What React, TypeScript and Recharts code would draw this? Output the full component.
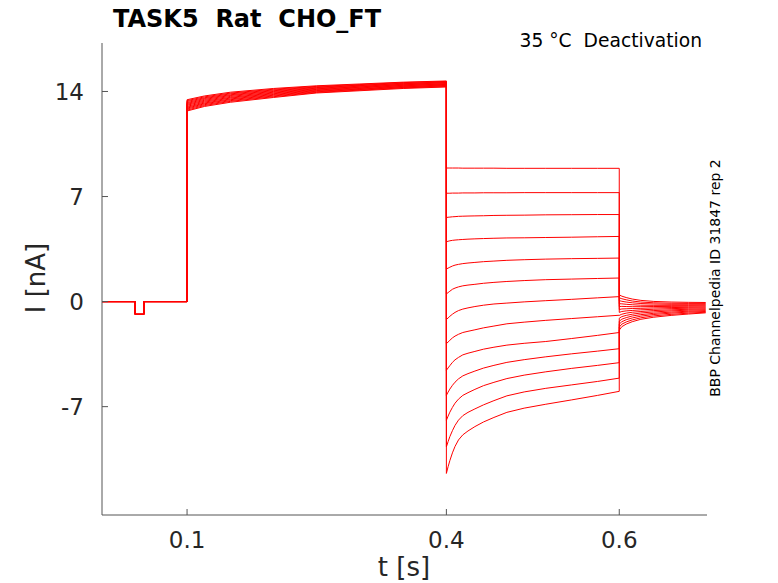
import { LineChart, Line, XAxis, YAxis } from 'recharts';

// holding level and short test pulse before the activating step
const PRE_T = [0, 0.04, 0.04, 0.05, 0.05, 0.1];
const PRE_I = [0, 0, -0.85, -0.85, 0, 0];

// activating step, 0.1 s .. 0.4 s (one row per sweep)
const ACT_T = [0.1, 0.12, 0.15, 0.2, 0.25, 0.3, 0.35, 0.4];
const ACT_I = [
  [13.45, 13.7, 13.95, 14.2, 14.38, 14.5, 14.62, 14.7],
  [13.39, 13.64, 13.89, 14.15, 14.34, 14.46, 14.59, 14.67],
  [13.33, 13.58, 13.84, 14.1, 14.3, 14.42, 14.55, 14.63],
  [13.26, 13.53, 13.78, 14.05, 14.26, 14.39, 14.52, 14.6],
  [13.2, 13.47, 13.73, 14.0, 14.22, 14.35, 14.48, 14.57],
  [13.14, 13.41, 13.67, 13.95, 14.18, 14.31, 14.45, 14.53],
  [13.08, 13.35, 13.61, 13.9, 14.14, 14.28, 14.41, 14.5],
  [13.01, 13.29, 13.56, 13.85, 14.1, 14.24, 14.38, 14.47],
  [12.95, 13.23, 13.5, 13.8, 14.06, 14.2, 14.34, 14.43],
  [12.89, 13.18, 13.45, 13.75, 14.02, 14.16, 14.31, 14.4],
  [12.83, 13.12, 13.39, 13.7, 13.98, 14.13, 14.27, 14.37],
  [12.76, 13.06, 13.34, 13.65, 13.94, 14.09, 14.24, 14.33],
  [12.7, 13.0, 13.28, 13.6, 13.9, 14.05, 14.2, 14.3],
];

// deactivation steps, 0.4 s .. 0.6 s
const DEACT_T = [
  0.4, 0.402, 0.404, 0.407, 0.41, 0.414, 0.419, 0.425, 0.433, 0.443, 0.455,
  0.47, 0.49, 0.515, 0.545, 0.575, 0.6,
];
const DEACT_I = [
  [8.9, 8.9, 8.9, 8.9, 8.9, 8.9, 8.89, 8.89, 8.89, 8.89, 8.89, 8.88, 8.88, 8.88, 8.88, 8.88, 8.88],
  [7.22, 7.22, 7.22, 7.23, 7.23, 7.23, 7.24, 7.24, 7.24, 7.25, 7.25, 7.25, 7.26, 7.26, 7.26, 7.26, 7.26],
  [5.6, 5.62, 5.63, 5.65, 5.66, 5.68, 5.69, 5.7, 5.71, 5.72, 5.74, 5.75, 5.76, 5.78, 5.79, 5.8, 5.8],
  [3.99, 4.02, 4.05, 4.08, 4.1, 4.12, 4.14, 4.16, 4.18, 4.2, 4.22, 4.24, 4.25, 4.27, 4.29, 4.32, 4.34],
  [2.17, 2.23, 2.29, 2.37, 2.43, 2.48, 2.53, 2.57, 2.61, 2.66, 2.7, 2.75, 2.79, 2.83, 2.86, 2.88, 2.9],
  [0.51, 0.6, 0.69, 0.82, 0.9, 0.98, 1.05, 1.1, 1.15, 1.22, 1.28, 1.34, 1.4, 1.46, 1.5, 1.54, 1.57],
  [-1.2, -1.09, -0.98, -0.84, -0.72, -0.6, -0.5, -0.42, -0.33, -0.24, -0.16, -0.1, -0.02, 0.06, 0.15, 0.25, 0.33],
  [-2.81, -2.69, -2.58, -2.42, -2.3, -2.18, -2.06, -1.98, -1.88, -1.75, -1.63, -1.48, -1.37, -1.25, -1.13, -1.01, -0.91],
  [-4.58, -4.42, -4.27, -4.05, -3.88, -3.72, -3.55, -3.44, -3.32, -3.17, -3.04, -2.9, -2.78, -2.66, -2.46, -2.25, -2.06],
  [-6.25, -6.03, -5.83, -5.58, -5.37, -5.15, -4.95, -4.8, -4.63, -4.43, -4.25, -4.05, -3.87, -3.68, -3.48, -3.3, -3.14],
  [-7.91, -7.63, -7.37, -7.05, -6.77, -6.5, -6.25, -6.07, -5.85, -5.6, -5.38, -5.13, -4.9, -4.68, -4.45, -4.25, -4.07],
  [-9.68, -9.33, -9.0, -8.6, -8.25, -7.9, -7.6, -7.38, -7.15, -6.88, -6.6, -6.28, -6.02, -5.78, -5.55, -5.32, -5.1],
  [-11.45, -11.0, -10.6, -10.08, -9.65, -9.22, -8.88, -8.62, -8.33, -8.02, -7.72, -7.38, -7.1, -6.84, -6.55, -6.25, -5.98],
];

// tail currents, 0.6 s .. 0.7 s
const TAIL_T = [0.6, 0.603, 0.608, 0.615, 0.625, 0.64, 0.66, 0.68, 0.7];
const TAIL_I = [
  [0.45, 0.36, 0.27, 0.17, 0.08, 0.01, -0.03, -0.05, -0.06],
  [0.25, 0.19, 0.12, 0.04, -0.03, -0.08, -0.11, -0.12, -0.12],
  [0.06, 0.02, -0.03, -0.08, -0.13, -0.16, -0.18, -0.18, -0.18],
  [-0.14, -0.15, -0.18, -0.21, -0.24, -0.25, -0.25, -0.25, -0.24],
  [-0.33, -0.32, -0.33, -0.34, -0.34, -0.33, -0.32, -0.31, -0.3],
  [-0.53, -0.49, -0.48, -0.46, -0.45, -0.42, -0.4, -0.38, -0.36],
  [-0.72, -0.66, -0.62, -0.59, -0.55, -0.51, -0.47, -0.44, -0.42],
  [-0.92, -0.84, -0.77, -0.71, -0.66, -0.6, -0.55, -0.51, -0.48],
  [-1.11, -1.0, -0.92, -0.84, -0.76, -0.69, -0.62, -0.57, -0.54],
  [-1.31, -1.17, -1.07, -0.96, -0.87, -0.78, -0.7, -0.64, -0.6],
  [-1.5, -1.34, -1.21, -1.09, -0.97, -0.86, -0.77, -0.7, -0.66],
  [-1.7, -1.5, -1.36, -1.22, -1.08, -0.95, -0.85, -0.77, -0.71],
  [-1.9, -1.67, -1.5, -1.34, -1.18, -1.04, -0.92, -0.83, -0.75],
];

const X_TICKS = [0.1, 0.4, 0.6];
const Y_TICKS = [-7, 0, 7, 14];

const FONT = '"DejaVu Sans", sans-serif';
const TRACE_RED = '#ff0000';

function buildSweep(k: number) {
  const pts: { t: number; i: number }[] = [];
  PRE_T.forEach((t, j) => pts.push({ t, i: PRE_I[j] }));
  ACT_T.forEach((t, j) => pts.push({ t, i: ACT_I[k][j] }));
  DEACT_T.forEach((t, j) => pts.push({ t, i: DEACT_I[k][j] }));
  TAIL_T.forEach((t, j) => pts.push({ t, i: TAIL_I[k][j] }));
  return pts;
}

const sweeps = ACT_I.map((_, k) => buildSweep(k));

export default function App() {
  return (
    <div
      style={{
        position: 'fixed',
        left: 0,
        top: 0,
        width: 778,
        height: 583,
        background: '#fff',
      }}
    >
      <LineChart
        width={778}
        height={583}
        margin={{ top: 43, right: 71, left: 0, bottom: 38 }}
      >
        <XAxis
          type="number"
          dataKey="t"
          domain={[0.0016, 0.7015]}
          ticks={X_TICKS}
          allowDataOverflow
          stroke="#555"
          height={30}
          tickSize={-6}
          tickMargin={23}
          tick={{ fill: '#262626', fontSize: 23, fontFamily: FONT }}
        />
        <YAxis
          type="number"
          domain={[-14.22, 17.23]}
          ticks={Y_TICKS}
          allowDataOverflow
          stroke="#555"
          width={102}
          tickSize={-6}
          tickMargin={24}
          tick={{ fill: '#262626', fontSize: 23, fontFamily: FONT }}
        />
        {sweeps.map((d, k) => (
          <Line
            key={k}
            data={d}
            dataKey="i"
            type="linear"
            stroke={TRACE_RED}
            strokeWidth={1}
            dot={false}
            activeDot={false}
            isAnimationActive={false}
          />
        ))}
      </LineChart>
      <svg
        width={778}
        height={583}
        style={{ position: 'absolute', left: 0, top: 0, pointerEvents: 'none' }}
        fontFamily={FONT}
      >
        <text x={113} y={27} fontSize={24} fontWeight="bold" fill="#000">
          TASK5{'\u00a0\u00a0'}Rat{'\u00a0\u00a0'}CHO_FT
        </text>
        <text x={702} y={47} textAnchor="end" fontSize={18.7} fill="#000">
          35 °C{'\u00a0\u00a0'}Deactivation
        </text>
        <text
          transform="translate(720,278) rotate(-90)"
          textAnchor="middle"
          fontSize={14}
          fill="#000"
        >
          BBP Channelpedia ID 31847 rep 2
        </text>
        <text
          transform="translate(45,278) rotate(-90)"
          textAnchor="middle"
          fontSize={26}
          fill="#262626"
        >
          I [nA]
        </text>
        <text x={404} y={576} textAnchor="middle" fontSize={26} fill="#262626">
          t [s]
        </text>
      </svg>
    </div>
  );
}
